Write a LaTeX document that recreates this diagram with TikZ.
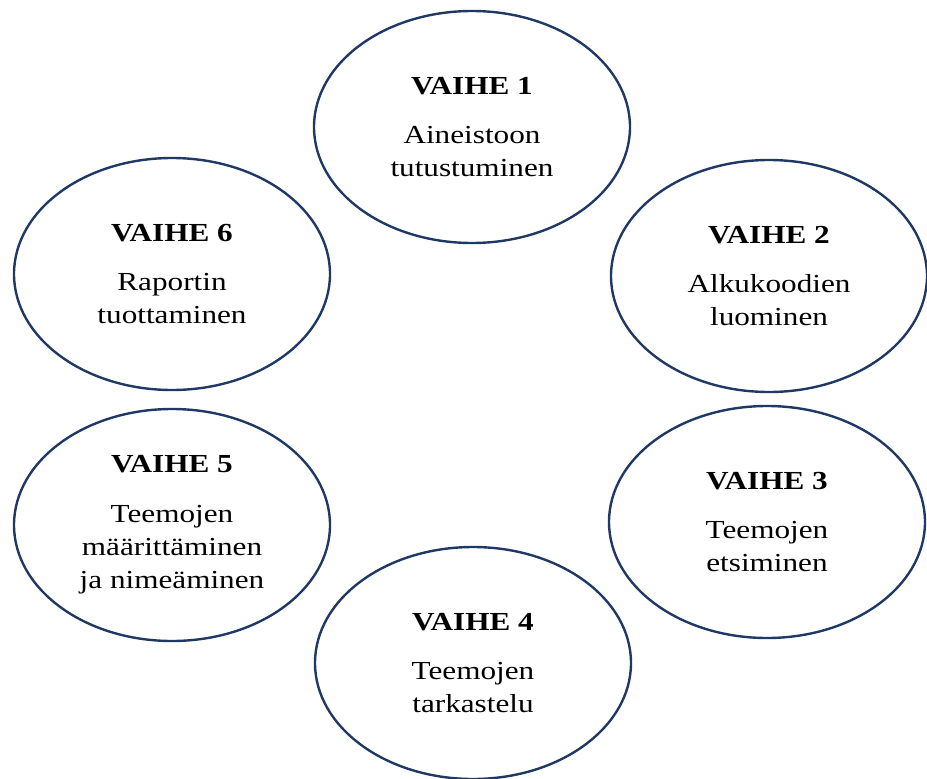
\documentclass[tikz,border=0pt]{standalone}
\usepackage{fontspec}
\setmainfont[FakeStretch=1.2]{Liberation Serif}
\usetikzlibrary{shapes.geometric}
\definecolor{navy}{RGB}{31,56,100}
\begin{document}
\begin{tikzpicture}[x=0.75pt,y=-0.75pt,
  phase/.style={ellipse, draw=navy, line width=1.8pt, minimum width=237pt,
    minimum height=174pt, inner sep=0pt, align=center,
    font=\fontsize{19.5}{25}\selectfont}]
\useasboundingbox (0,0) rectangle (927,778);
\node[phase] (v1) at (472,127) {\textbf{VAIHE 1}\\[12pt]Aineistoon\\tutustuminen};
\node[phase] (v2) at (769,276) {\textbf{VAIHE 2}\\[12pt]Alkukoodien\\luominen};
\node[phase] (v3) at (767,522) {\textbf{VAIHE 3}\\[12pt]Teemojen\\etsiminen};
\node[phase] (v4) at (473,663) {\textbf{VAIHE 4}\\[12pt]Teemojen\\tarkastelu};
\node[phase] (v5) at (172,525) {\textbf{VAIHE 5}\\[12pt]Teemojen\\määrittäminen\\ja nimeäminen};
\node[phase] (v6) at (172,274) {\textbf{VAIHE 6}\\[12pt]Raportin\\tuottaminen};
\end{tikzpicture}
\end{document}
